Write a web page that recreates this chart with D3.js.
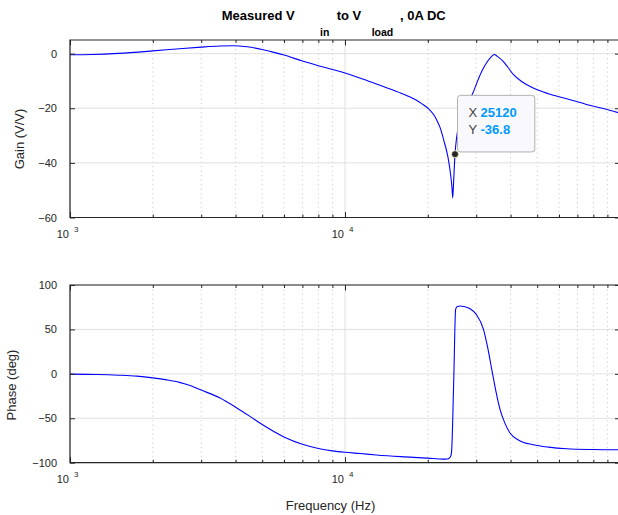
<!DOCTYPE html>
<html>
<head>
<meta charset="utf-8">
<script src="https://cdn.jsdelivr.net/npm/d3@7"></script>
<style>
  html, body { margin: 0; padding: 0; background: #ffffff; }
  svg { display: block; font-family: "Liberation Sans", Arial, Helvetica, sans-serif; }
</style>
</head>
<body>
<svg id="chart" width="618" height="515"></svg>
<script>
// Measured frequency response, V_in to V_load at 0 A DC
const gainFreq = [1000, 1200, 1500, 2000, 2500, 3000, 3500, 3900, 4400, 5000, 5500, 6000, 7000, 8000, 9000,
  10000, 12000, 14000, 16000, 18000, 19000, 20000, 21000, 21530, 22160, 22910, 23690, 24190, 24490, 24640,
  24800, 25120, 25440, 26500, 27500, 29100, 30500, 31500, 33000, 34300, 34900, 35700, 37600, 39000, 41000,
  44000, 48400, 55000, 64000, 75000, 87000, 100000];
const gainDb = [-0.4, -0.3, 0.1, 1.0, 1.8, 2.4, 2.8, 2.9, 2.5, 1.5, 0.5, -0.5, -2.7, -4.4, -5.8,
  -7.1, -9.8, -12.3, -14.5, -16.8, -18.3, -19.9, -22.3, -24.2, -27, -32, -38, -44, -49, -52.8,
  -48, -36.8, -31, -23.5, -19.5, -14.7, -9.5, -6.3, -2.8, -0.8, -0.3, -0.9, -2.8, -4.8, -7.7,
  -10.3, -12.6, -14.7, -16.5, -18.5, -20.1, -21.8];

const phaseFreq = [1000, 1250, 1500, 1750, 2000, 2250, 2500, 2750, 3000, 3500, 4000, 4500, 5000, 6000, 7000,
  8000, 9000, 10000, 11340, 13000, 16000, 20000, 22760, 23500, 24000, 24300, 24440, 24860, 25250, 25600,
  26200, 27300, 28500, 30000, 31880, 33000, 34180, 35400, 36640, 38200, 39810, 43000, 48400, 55000, 64000,
  80000, 100000];
const phaseDeg = [-0.3, -0.7, -1.5, -2.6, -4.5, -6.8, -9.6, -13.5, -18.3, -27, -37.5, -47.6, -57, -71, -79.3,
  -84, -86.7, -88.3, -89.7, -91.3, -93.2, -94.8, -96, -95.8, -94.5, -91.5, -85, -6, 72.6, 75.8,
  76.3, 75.5, 73.3, 67, 50, 30, 4.8, -20, -40.3, -56, -66.6, -75, -79.8, -82.5, -84.3,
  -85.2, -85.5];

const gainTicks = [0, -20, -40, -60];
const phaseTicks = [100, 50, 0, -50, -100];
const decades = [1e3, 1e4];
const decadeExponents = ["3", "4"];
const minorFreqs = [2e3, 3e3, 4e3, 5e3, 6e3, 7e3, 8e3, 9e3, 2e4, 3e4, 4e4, 5e4, 6e4, 7e4, 8e4, 9e4];

// data tip on the gain trace
const tipFreq = 25120;
const tipGain = -36.8;

const svg = d3.select("#chart");
const axisColor = "#262626";

const x = d3.scaleLog().domain([1e3, 1e5]).range([70, 620]);

const panels = [
  { id: "gain", y: d3.scaleLinear().domain([-60, 5]).range([217.5, 40]), ticks: gainTicks,
    xs: gainFreq, ys: gainDb, label: "Gain (V/V)", labelX: 19, labelY: 139 },
  { id: "phase", y: d3.scaleLinear().domain([-100, 100]).range([462.7, 285]), ticks: phaseTicks,
    xs: phaseFreq, ys: phaseDeg, label: "Phase (deg)", labelX: 11, labelY: 385 }
];

const [x0, x1] = x.range();

panels.forEach(p => {
  const [yb, yt] = p.y.range();
  const g = svg.append("g");

  g.append("clipPath").attr("id", "clip-" + p.id)
    .append("rect").attr("x", x0).attr("y", yt).attr("width", x1 - x0).attr("height", yb - yt);

  // minor (dotted) frequency grid
  g.append("g").selectAll("line").data(minorFreqs).join("line")
    .attr("x1", d => x(d)).attr("x2", d => x(d))
    .attr("y1", yt).attr("y2", yb)
    .attr("stroke", "#cdcdcd").attr("stroke-width", 1)
    .attr("stroke-dasharray", "1.2,3.3");

  // major grid
  g.append("g").selectAll("line").data(decades).join("line")
    .attr("x1", d => x(d)).attr("x2", d => x(d))
    .attr("y1", yt).attr("y2", yb)
    .attr("stroke", "#e0e0e0").attr("stroke-width", 1);
  g.append("g").selectAll("line").data(p.ticks).join("line")
    .attr("x1", x0).attr("x2", x1)
    .attr("y1", d => p.y(d)).attr("y2", d => p.y(d))
    .attr("stroke", "#e0e0e0").attr("stroke-width", 1);

  // trace
  const line = d3.line()
    .x((d, i) => x(p.xs[i]))
    .y(d => p.y(d))
    .curve(d3.curveMonotoneX);
  g.append("path")
    .attr("clip-path", `url(#clip-${p.id})`)
    .attr("d", line(p.ys))
    .attr("fill", "none")
    .attr("stroke", "#0000ff")
    .attr("stroke-width", 1.1);

  // y axis (ticks inward) with labels
  const yAxis = d3.axisLeft(p.y).tickValues(p.ticks).tickSize(-5).tickPadding(13).tickFormat(d3.format("d"));
  const ya = g.append("g").attr("transform", `translate(${x0},0)`).call(yAxis);
  ya.select(".domain").remove();
  ya.selectAll("line").attr("stroke", axisColor);
  ya.selectAll("text").attr("fill", axisColor).attr("font-size", 11)
    .attr("font-family", "Liberation Sans, Arial, sans-serif");

  // right-side ticks
  const yr = g.append("g").attr("transform", `translate(${x1},0)`)
    .call(d3.axisRight(p.y).tickValues(p.ticks).tickSize(-5).tickFormat(""));
  yr.select(".domain").remove();
  yr.selectAll("line").attr("stroke", axisColor);

  // x ticks, bottom and top, major and minor
  [[yb, d3.axisBottom], [yt, d3.axisTop]].forEach(([yy, ax]) => {
    const ma = g.append("g").attr("transform", `translate(0,${yy})`)
      .call(ax(x).tickValues(decades).tickSize(-5.5).tickFormat(""));
    ma.select(".domain").remove();
    ma.selectAll("line").attr("stroke", axisColor);
    const mi = g.append("g").attr("transform", `translate(0,${yy})`)
      .call(ax(x).tickValues(minorFreqs).tickSize(-3).tickFormat(""));
    mi.select(".domain").remove();
    mi.selectAll("line").attr("stroke", axisColor);
  });

  // axes box
  g.append("path")
    .attr("d", `M${x1},${yt}H${x0}V${yb}H${x1}`)
    .attr("fill", "none").attr("stroke", axisColor).attr("stroke-width", 1.2);

  // decade labels 10^n
  const lab = g.append("g").selectAll("g").data(decades).join("g");
  lab.append("text")
    .attr("x", d => x(d) - 1).attr("y", yb + 20.5)
    .attr("text-anchor", "end").attr("font-size", 11).attr("fill", axisColor)
    .text("10");
  lab.append("text")
    .attr("x", d => x(d) + 4).attr("y", yb + 14.5)
    .attr("font-size", 8).attr("fill", axisColor)
    .text((d, i) => decadeExponents[i]);

  // y label
  g.append("text")
    .attr("transform", `translate(${p.labelX},${p.labelY}) rotate(-90)`)
    .attr("text-anchor", "middle").attr("dy", "0.35em")
    .attr("font-size", 13).attr("fill", axisColor)
    .text(p.label);
});

// x label
svg.append("text")
  .attr("x", 330.5).attr("y", 509.5)
  .attr("text-anchor", "middle").attr("font-size", 13).attr("fill", axisColor)
  .text("Frequency (Hz)");

// title with subscripts
const title = svg.append("g").attr("font-weight", "bold").attr("fill", "#000");
[
  { t: "Measured V", x: 221.7, y: 19.5, s: 13 },
  { t: "in", x: 320, y: 36, s: 10.5 },
  { t: "to V", x: 336.7, y: 19.5, s: 13 },
  { t: "load", x: 371.7, y: 36, s: 10.5 },
  { t: ", 0A DC", x: 400, y: 19.5, s: 13 }
].forEach(seg => {
  title.append("text").attr("x", seg.x).attr("y", seg.y).attr("font-size", seg.s).text(seg.t);
});

// data tip
const gp = panels[0];
const tx = x(tipFreq), ty = gp.y(tipGain);
const tip = svg.append("g");
tip.append("rect")
  .attr("x", tx + 2.5).attr("y", ty - 58.8)
  .attr("width", 77.3).attr("height", 56.6).attr("rx", 3)
  .attr("fill", "#f9f9fd").attr("stroke", "#b0b0b0").attr("stroke-width", 1);
tip.append("text").attr("x", tx + 13.5).attr("y", ty - 37.2)
  .attr("font-size", 13).attr("fill", "#404040").text("X");
tip.append("text").attr("x", tx + 25.5).attr("y", ty - 37.2)
  .attr("font-size", 13).attr("font-weight", "bold").attr("fill", "#0099ff").text(tipFreq);
tip.append("text").attr("x", tx + 13.5).attr("y", ty - 19.8)
  .attr("font-size", 13).attr("fill", "#404040").text("Y");
tip.append("text").attr("x", tx + 25.5).attr("y", ty - 19.8)
  .attr("font-size", 13).attr("font-weight", "bold").attr("fill", "#0099ff").text(tipGain);
tip.append("circle").attr("cx", tx).attr("cy", ty).attr("r", 3.5)
  .attr("fill", "#262626").attr("stroke", "#fffbd0").attr("stroke-width", 0.8);
</script>
</body>
</html>
